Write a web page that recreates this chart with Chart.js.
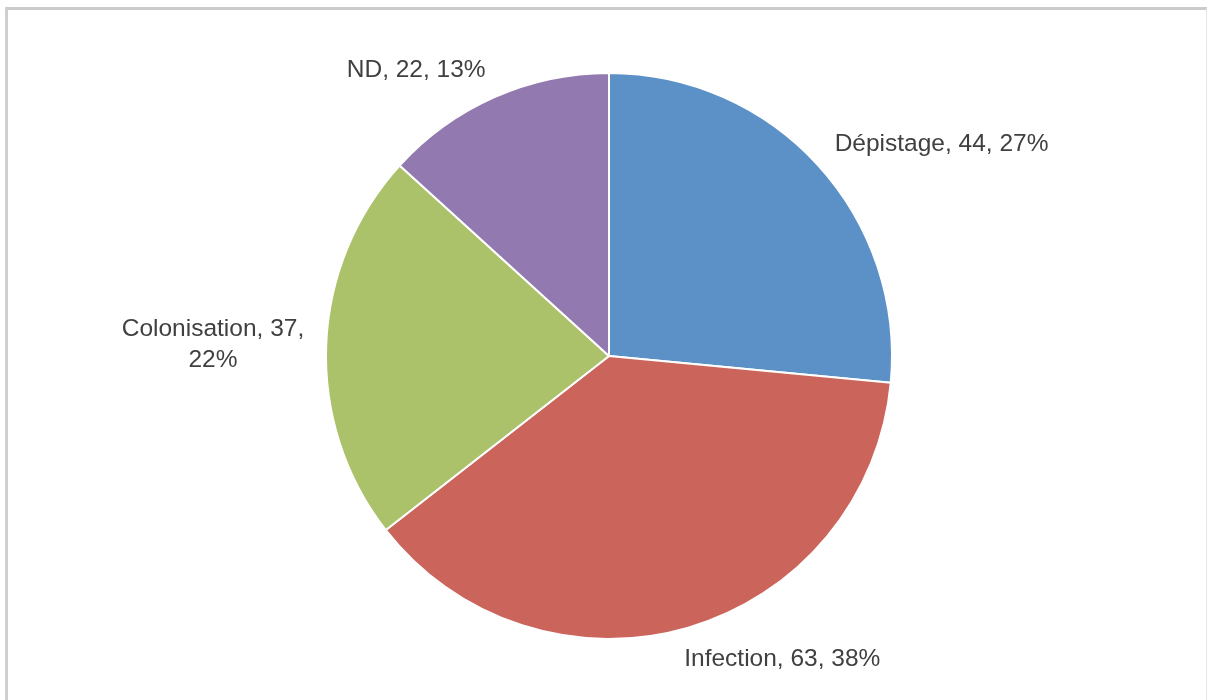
<!DOCTYPE html>
<html>
<head>
<meta charset="utf-8">
<script src="https://cdn.jsdelivr.net/npm/chart.js@4/dist/chart.umd.min.js"></script>
<style>
  html, body { margin: 0; padding: 0; background: #ffffff; }
  body { width: 1211px; height: 700px; overflow: hidden; position: relative; }
  #frame {
    position: absolute; left: 5px; top: 7px; width: 1202px; height: 720px;
    border-top: 3px solid #cbcbcb; border-left: 3px solid #cfcfcf;
    border-right: 1px solid #e6e6e6; box-sizing: border-box;
  }
  #wrap { position: absolute; left: 0; top: 0; width: 1211px; height: 700px; }
</style>
</head>
<body>
<div id="frame"></div>
<div id="wrap"><canvas id="c" width="1211" height="700"></canvas></div>
<script>
// Répartition des prélèvements par motif
const categories = ['Dépistage', 'Infection', 'Colonisation', 'ND'];
const counts = [44, 63, 37, 22];
const sliceColors = ['#5B91C6', '#CB655B', '#ABC26A', '#9279B0'];

const labelFont = '24.5px "Liberation Sans", Arial, sans-serif';
const labelColor = '#404040';
const labelGap = 22;
const labelMaxWidth = 225;
const lineHeight = 31.5;
const capHeight = 17;

function wrapText(ctx, text, maxW) {
  const words = text.split(' ');
  const lines = [];
  let cur = '';
  for (const w of words) {
    const test = cur ? cur + ' ' + w : w;
    if (cur && ctx.measureText(test).width > maxW) {
      lines.push(cur);
      cur = w;
    } else {
      cur = test;
    }
  }
  if (cur) lines.push(cur);
  return lines;
}

// Libellés « catégorie, valeur, pourcentage » placés à l'extérieur de chaque secteur
const outsideLabels = {
  id: 'outsideLabels',
  afterDatasetsDraw(chart) {
    const ctx = chart.ctx;
    const meta = chart.getDatasetMeta(0);
    const data = chart.data.datasets[0].data;
    const total = data.reduce((a, b) => a + b, 0);
    ctx.save();
    ctx.font = labelFont;
    ctx.fillStyle = labelColor;
    ctx.textBaseline = 'alphabetic';
    ctx.textAlign = 'center';
    meta.data.forEach((arc, i) => {
      const p = arc.getProps(['x', 'y', 'startAngle', 'endAngle', 'outerRadius'], true);
      const mid = (p.startAngle + p.endAngle) / 2;
      const dx = Math.cos(mid), dy = Math.sin(mid);
      const r = p.outerRadius + labelGap;
      const px = p.x + r * dx, py = p.y + r * dy;
      const pct = Math.round(data[i] / total * 100);
      const text = chart.data.labels[i] + ', ' + data[i] + ', ' + pct + '%';
      const lines = wrapText(ctx, text, labelMaxWidth);
      const w = Math.max(...lines.map(l => ctx.measureText(l).width));
      const h = (lines.length - 1) * lineHeight + capHeight;
      const fx = Math.min(1, Math.max(0, 0.5 - dx * 1.6));
      const fy = Math.min(1, Math.max(-1, dy * 1.6));
      const left = px - w * fx;
      const cx = left + w / 2;
      const cy = py + fy * h / 2;
      const firstBaseline = cy - h / 2 + capHeight;
      lines.forEach((l, k) => ctx.fillText(l, cx, firstBaseline + k * lineHeight));
    });
    ctx.restore();
  }
};

new Chart(document.getElementById('c'), {
  type: 'pie',
  data: {
    labels: categories,
    datasets: [{
      data: counts,
      backgroundColor: sliceColors,
      borderColor: '#ffffff',
      borderWidth: 2,
      radius: 283
    }]
  },
  options: {
    responsive: false,
    animation: false,
    layout: { padding: { top: 12, left: 7 } },
    plugins: {
      legend: { display: false },
      tooltip: { enabled: false }
    }
  },
  plugins: [outsideLabels]
});
</script>
</body>
</html>
